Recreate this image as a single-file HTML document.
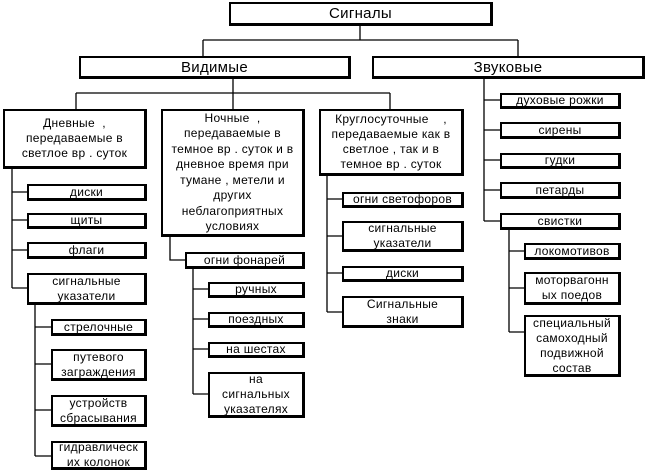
<!DOCTYPE html>
<html><head><meta charset="utf-8"><style>
body{margin:0;width:646px;height:471px;background:#fff;position:relative;overflow:hidden;font-family:"Liberation Sans","DejaVu Sans",sans-serif;}
.b{position:absolute;box-sizing:border-box;border:2px solid #000;border-right-width:3px;border-bottom-width:3px;background:#fff;display:flex;align-items:center;justify-content:center;text-align:center;font-size:12px;letter-spacing:0.3px;line-height:15px;color:#000;white-space:nowrap;}
svg{position:absolute;left:0;top:0}
</style></head><body>
<svg width="646" height="471"><g stroke="#000" stroke-width="1.3" fill="none">
<path d="M360 25V40M203 40H518M203 40V56M518 40V56"/>
<path d="M233 78V93M76 93H390M76 93V109M233 93V109M390 93V109"/>
<path d="M484 78V221M484 100H500M484 130H500M484 160H500M484 190H500M484 221H500"/>
<path d="M509 229V332M509 251H524M509 288H524M509 332H524"/>
<path d="M12 168V288M12 192H27M12 220H27M12 250H27M12 288H51"/>
<path d="M35 304V456M35 327H51M35 364H51M35 410H51M35 456H51"/>
<path d="M170 236V260H185"/>
<path d="M193 268V394M193 289H208M193 319H208M193 349H208M193 394H208"/>
<path d="M327 175V312M327 199H342M327 236H342M327 273H342M327 312H342"/>
</g></svg>
<div class="b" style="left:229px;top:2px;width:264px;height:24px;font-size:15px">Сигналы</div>
<div class="b" style="left:79px;top:56px;width:272px;height:23px;font-size:15px">Видимые</div>
<div class="b" style="left:372px;top:56px;width:273px;height:23px;font-size:15px">Звуковые</div>
<div class="b" style="left:3px;top:109px;width:144px;height:60px">Дневные&nbsp;&nbsp;,<br>передаваемые в<br>светлое вр&nbsp;. суток</div>
<div class="b" style="left:161px;top:109px;width:144px;height:128px;line-height:15.5px">Ночные&nbsp;&nbsp;,<br>передаваемые в<br>темное вр&nbsp;. суток и в<br>дневное время при<br>тумане , метели и<br>других<br>неблагоприятных<br>условиях</div>
<div class="b" style="left:319px;top:109px;width:145px;height:67px">Круглосуточные&nbsp;&nbsp;&nbsp;&nbsp;,<br>передаваемые как в<br>светлое&nbsp;, так и в<br>темное вр&nbsp;. суток</div>
<div class="b" style="left:500px;top:93px;width:121px;height:16px">духовые рожки</div>
<div class="b" style="left:500px;top:122px;width:121px;height:17px">сирены</div>
<div class="b" style="left:500px;top:153px;width:121px;height:16px">гудки</div>
<div class="b" style="left:500px;top:182px;width:121px;height:17px">петарды</div>
<div class="b" style="left:500px;top:213px;width:121px;height:17px">свистки</div>
<div class="b" style="left:524px;top:243px;width:97px;height:17px">локомотивов</div>
<div class="b" style="left:524px;top:272px;width:97px;height:33px">моторвагонн<br>ых поедов</div>
<div class="b" style="left:524px;top:315px;width:97px;height:62px">специальный<br>самоходный<br>подвижной<br>состав</div>
<div class="b" style="left:27px;top:184px;width:120px;height:17px">диски</div>
<div class="b" style="left:27px;top:213px;width:120px;height:16px">щиты</div>
<div class="b" style="left:27px;top:242px;width:120px;height:17px">флаги</div>
<div class="b" style="left:27px;top:273px;width:120px;height:32px">сигнальные<br>указатели</div>
<div class="b" style="left:51px;top:319px;width:96px;height:17px">стрелочные</div>
<div class="b" style="left:51px;top:349px;width:96px;height:32px">путевого<br>заграждения</div>
<div class="b" style="left:51px;top:395px;width:96px;height:32px">устройств<br>сбрасывания</div>
<div class="b" style="left:51px;top:441px;width:96px;height:29px">гидравлическ<br>их колонок</div>
<div class="b" style="left:185px;top:252px;width:120px;height:17px">огни фонарей</div>
<div class="b" style="left:208px;top:282px;width:97px;height:16px">ручных</div>
<div class="b" style="left:208px;top:312px;width:97px;height:16px">поездных</div>
<div class="b" style="left:208px;top:342px;width:97px;height:16px">на шестах</div>
<div class="b" style="left:208px;top:372px;width:97px;height:46px">на<br>сигнальных<br>указателях</div>
<div class="b" style="left:342px;top:192px;width:122px;height:16px">огни светофоров</div>
<div class="b" style="left:342px;top:221px;width:122px;height:31px">сигнальные<br>указатели</div>
<div class="b" style="left:342px;top:266px;width:122px;height:16px">диски</div>
<div class="b" style="left:342px;top:296px;width:122px;height:32px">Сигнальные<br>знаки</div>
</body></html>
